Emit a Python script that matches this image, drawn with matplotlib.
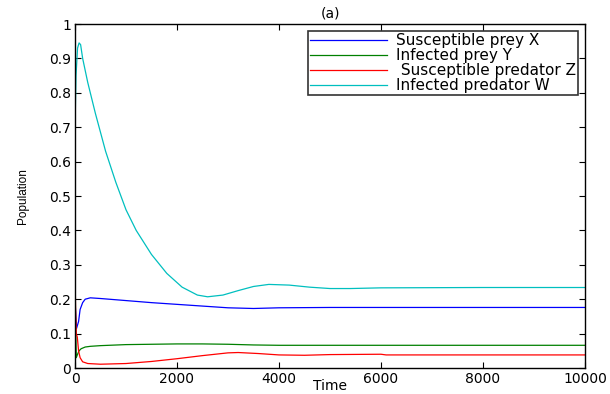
import matplotlib
matplotlib.use("Agg")
import matplotlib.pyplot as plt

# Data
t_X = [0, 15, 30, 50, 70, 100, 150, 200, 300, 500, 1000, 1500, 2000, 2500, 3000, 3500, 4000, 5000, 6000, 8000, 10000]
X   = [0.20, 0.15, 0.115, 0.125, 0.135, 0.17, 0.19, 0.200, 0.204, 0.202, 0.196, 0.190, 0.185, 0.180, 0.175, 0.173, 0.175, 0.176, 0.176, 0.176, 0.176]

t_Y = [0, 10, 25, 50, 80, 120, 200, 300, 500, 1000, 1500, 2000, 2500, 3000, 3500, 4000, 5000, 6000, 8000, 10000]
Y   = [0.35, 0.15, 0.03, 0.04, 0.05, 0.056, 0.061, 0.063, 0.065, 0.068, 0.069, 0.070, 0.070, 0.069, 0.067, 0.066, 0.066, 0.066, 0.066, 0.066]

t_Z = [0, 10, 25, 45, 70, 100, 150, 250, 500, 1000, 1500, 2000, 2500, 3000, 3200, 3600, 4000, 4500, 5000, 6000, 6100, 8000, 10000]
Z   = [0.30, 0.18, 0.10, 0.09, 0.05, 0.03, 0.018, 0.013, 0.011, 0.013, 0.019, 0.027, 0.036, 0.044, 0.045, 0.042, 0.038, 0.037, 0.039, 0.040, 0.038, 0.038, 0.038]

t_W = [0, 20, 50, 80, 110, 150, 250, 400, 600, 800, 1000, 1200, 1500, 1800, 2100, 2400, 2600, 2900, 3200, 3500, 3800, 4200, 4600, 5000, 5400, 6000, 8000, 10000]
W   = [0.70, 0.85, 0.93, 0.945, 0.94, 0.90, 0.83, 0.74, 0.63, 0.54, 0.46, 0.40, 0.33, 0.275, 0.235, 0.212, 0.207, 0.212, 0.225, 0.237, 0.243, 0.241, 0.235, 0.231, 0.231, 0.233, 0.234, 0.234]

labels = ["Susceptible prey X", "Infected prey Y", " Susceptible predator Z", "Infected predator W"]
colors = ["#0000ff", "#008000", "#ff0000", "#00bfbf"]

xticks = [0, 2000, 4000, 6000, 8000, 10000]
yticks = [0, 0.1, 0.2, 0.3, 0.4, 0.5, 0.6, 0.7, 0.8, 0.9, 1]

plt.rcParams['font.family'] = ['DejaVu Sans']

fig = plt.figure(figsize=(6.10, 3.94), dpi=100)
ax = fig.add_axes([75/610, 1-368/394, 510/610, 344/394])

for tt, vv, c, lab in zip([t_X, t_Y, t_Z, t_W], [X, Y, Z, W], colors, labels):
    ax.plot(tt, vv, color=c, lw=0.9, label=lab)

ax.set_xlim(0, 10000)
ax.set_ylim(0, 1)
ax.set_xticks(xticks)
ax.set_xticklabels([str(v) for v in xticks])
ax.set_yticks(yticks)
ax.set_yticklabels([f"{v:g}" for v in yticks])
ax.tick_params(direction='in', top=True, right=True, length=4, width=0.8, labelsize=10, pad=3)
for s in ax.spines.values():
    s.set_linewidth(1.0)

ax.set_xlabel("Time", fontsize=10, labelpad=-5)
ax.set_ylabel("Population", fontsize=8.5, family='Liberation Sans', labelpad=14)
ax.set_title("(a)", fontsize=10, pad=5)

leg = ax.legend(loc='upper right', fontsize=11, frameon=True, fancybox=False,
                edgecolor='black', handlelength=5.0, borderpad=0.15, labelspacing=0.0,
                borderaxespad=0.45, handletextpad=0.6)
leg.get_frame().set_linewidth(1.2)

fig.savefig("out.png", dpi=100)
